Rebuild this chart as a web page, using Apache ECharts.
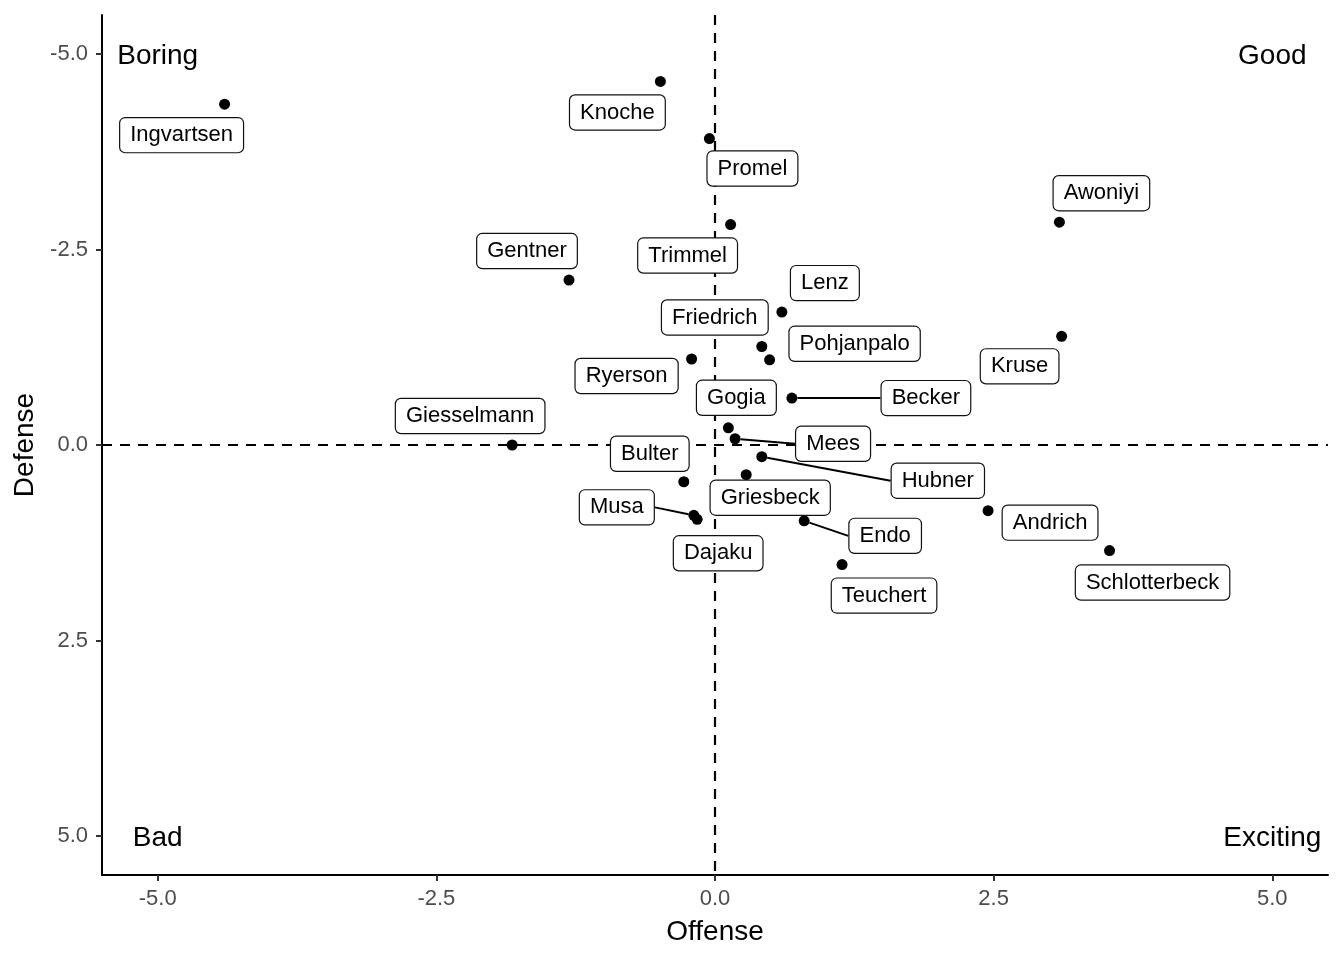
<!DOCTYPE html>
<html>
<head>
<meta charset="utf-8">
<script src="https://cdn.jsdelivr.net/npm/echarts@6/dist/echarts.min.js"></script>
<style>html,body{margin:0;padding:0;background:#fff}#c{width:1344px;height:960px}</style>
</head>
<body>
<div id="c"></div>
<script>
// Data
const players = ["Ingvartsen","Knoche","Promel","Trimmel","Awoniyi","Gentner","Lenz","Kruse","Friedrich","Pohjanpalo","Ryerson","Becker","Gogia","Mees","Hubner","Griesbeck","Bulter","Musa","Dajaku","Endo","Teuchert","Giesselmann","Andrich","Schlotterbeck"];
const offense = [-4.40,-0.49,-0.05,0.14,3.09,-1.31,0.60,3.11,0.42,0.49,-0.21,0.69,0.12,0.18,0.42,0.28,-0.28,-0.19,-0.16,0.80,1.14,-1.82,2.45,3.54];
const defense = [-4.36,-4.65,-3.92,-2.82,-2.85,-2.11,-1.70,-1.39,-1.26,-1.09,-1.10,-0.60,-0.22,-0.08,0.15,0.38,0.47,0.90,0.95,0.97,1.53,0.00,0.84,1.35];
const quadrantNames = ["Boring","Good","Bad","Exciting"];
const quadrantX = [-5,5,-5,5];
const quadrantY = [-5,-5,5,5];
const tickValues = [-5,-2.5,0,2.5,5];

// Label placement (pixel offsets, repel-style)
const labelOffsets = {
  Ingvartsen:[-43,31], Knoche:[-43,31], Promel:[43,30], Trimmel:[-43,31], Awoniyi:[42,-29],
  Gentner:[-42,-29], Lenz:[43,-29], Kruse:[-42,30], Friedrich:[-47,-29], Pohjanpalo:[85,-16],
  Ryerson:[-65,17], Becker:[134,0], Gogia:[8,-30], Mees:[98,5], Hubner:[176,24],
  Griesbeck:[24,23], Bulter:[-34,-28], Musa:[-77,-8], Dajaku:[21,34], Endo:[81,15],
  Teuchert:[42,31], Giesselmann:[-42,-29], Andrich:[62,12], Schlotterbeck:[43,32]
};
const withSegment = ["Becker","Mees","Hubner","Musa","Endo"];

const font = "'Liberation Sans', Arial, Helvetica, sans-serif";
const chart = echarts.init(document.getElementById('c'), null, {renderer:'canvas'});

const pointData = players.map((n,i)=>({
  name:n, value:[offense[i], defense[i]],
  labelLine:{show: withSegment.includes(n)}
}));

const axisCommon = {
  type:'value', min:-5.5, max:5.5,
  nameLocation:'middle',
  nameTextStyle:{fontFamily:font,fontSize:28,color:'#000'},
  axisLine:{show:true,onZero:false,lineStyle:{color:'#000',width:2}},
  splitLine:{show:false}
};

const option = {
  backgroundColor:'#fff',
  animation:false,
  textStyle:{color:'#000',fontFamily:font},
  grid:{left:102,right:16,top:15,bottom:85,containLabel:false,outerBoundsMode:'none'},
  xAxis:Object.assign({}, axisCommon, {
    name:'Offense', nameGap:43,
    axisTick:{show:true,length:6,lineStyle:{color:'#333',width:2},customValues:tickValues},
    axisLabel:{customValues:tickValues,fontFamily:font,fontSize:22,color:'#4d4d4d',margin:13,formatter:v=>v.toFixed(1)}
  }),
  yAxis:Object.assign({}, axisCommon, {
    inverse:true,
    name:'Defense', nameGap:63, nameRotate:90,
    axisTick:{show:true,length:6,lineStyle:{color:'#333',width:2},customValues:tickValues},
    axisLabel:{customValues:tickValues,fontFamily:font,fontSize:22,color:'#4d4d4d',margin:14,formatter:v=>v.toFixed(1)}
  }),
  series:[
    {
      type:'scatter', symbolSize:0, silent:true, z:1,
      data:[],
      markLine:{
        silent:true, symbol:'none', label:{show:false},
        lineStyle:{color:'#000',width:2.2,type:[10,8]},
        data:[{xAxis:0},{yAxis:0}]
      }
    },
    {
      type:'scatter', symbol:'circle', symbolSize:11,
      itemStyle:{color:'#000',opacity:1},
      data:pointData,
      label:{
        show:true, position:'inside', formatter:p=>p.name,
        fontFamily:font, fontSize:22, color:'#000', textBorderWidth:0,
        backgroundColor:'#fff', borderColor:'#111', borderWidth:1.2, borderRadius:5,
        padding:[6,10]
      },
      labelLine:{show:false,lineStyle:{color:'#000',width:2}},
      labelLayout:function(p){
        const o = labelOffsets[players[p.dataIndex]] || [0,0];
        return {dx:o[0], dy:o[1], hideOverlap:false};
      },
      z:5
    },
    {
      type:'scatter', symbolSize:0, silent:true,
      data:quadrantNames.map((n,i)=>({name:n,value:[quadrantX[i],quadrantY[i]]})),
      label:{show:true,position:'inside',offset:[0,2],formatter:p=>p.name,fontFamily:font,fontSize:28,color:'#000',textBorderWidth:0,opacity:1},
      z:6
    }
  ]
};
chart.setOption(option);
</script>
</body>
</html>
